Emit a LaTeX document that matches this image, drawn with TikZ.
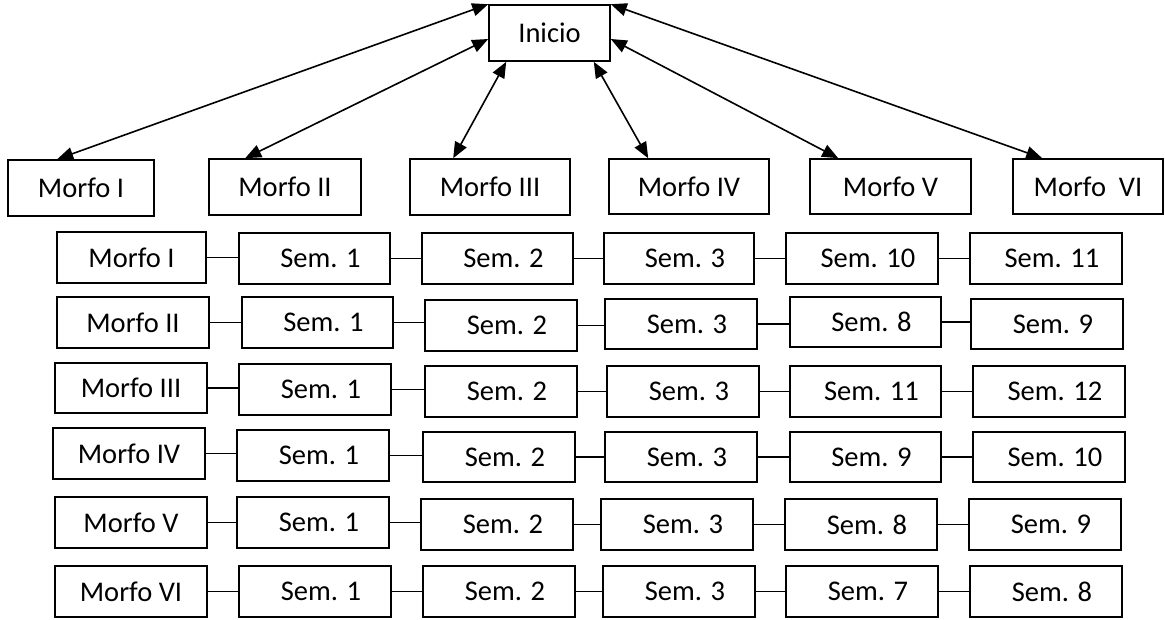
\documentclass[tikz,border=0pt]{standalone}
\usepackage{fontspec}
\setmainfont{Carlito}
\usetikzlibrary{arrows.meta}
\tikzset{
  boxnode/.style={draw, line width=1.6pt, inner sep=0pt, font=\fontsize{28.5}{34}\selectfont},
  semtext/.style={execute at begin node={\hspace*{12pt}}},
  biarrow/.style={{Triangle[length=16pt,width=13pt]}-{Triangle[length=16pt,width=13pt]}, line width=1.6pt},
  link/.style={line width=1.6pt}
}
% name, x1, x2, y1, y2, extra style, text
\newcommand{\mybox}[7]{%
  \node[boxnode,#6,minimum width={(#3-#2)*1pt},minimum height={(#5-#4)*1pt}] (#1) at ({(#2+#3)/2},{(#4+#5)/2}) {#7};}
\newcommand{\mylink}[2]{\draw[link] (#1.east) -- (#1.east -| #2.west);}
\begin{document}
\begin{tikzpicture}[x=1pt,y=-1pt]
\useasboundingbox (0,0) rectangle (1165,619);
% top
\mybox{ini}{489}{610}{5}{61}{}{Inicio}
\mybox{t1}{8}{154}{160}{216}{}{Morfo I}
\mybox{t2}{209}{361}{159}{215}{}{Morfo II}
\mybox{t3}{410}{570}{159}{215}{}{Morfo III}
\mybox{t4}{609}{769}{159}{214}{}{Morfo IV}
\mybox{t5}{810}{971}{159}{214}{}{Morfo V}
\mybox{t6}{1013}{1163}{159}{214}{}{Morfo\ \ VI}
\draw[biarrow] (ini.north west) -- ([xshift=50pt]t1.north west);
\draw[biarrow] ([yshift=-6pt]ini.west) -- ([xshift=37pt]t2.north west);
\draw[biarrow] ([xshift=18pt]ini.south west) -- ([xshift=44pt]t3.north west);
\draw[biarrow] ([xshift=-17pt]ini.south east) -- ([xshift=40pt]t4.north west);
\draw[biarrow] ([yshift=-6pt]ini.east) -- ([xshift=29pt]t5.north west);
\draw[biarrow] (ini.north east) -- ([xshift=30pt]t6.north west);
% row 1
\mybox{a0}{57}{206}{232}{283}{}{Morfo I}
\mybox{a1}{239}{390}{233}{284}{semtext}{Sem. 1}
\mybox{a2}{422}{573}{233}{284}{semtext}{Sem. 2}
\mybox{a3}{604}{754}{233}{284}{semtext}{Sem. 3}
\mybox{a4}{786}{938}{233}{284}{semtext}{Sem. 10}
\mybox{a5}{970}{1122}{233}{284}{semtext}{Sem. 11}
% row 2
\mybox{b0}{57}{209}{297}{348}{}{Morfo II}
\mybox{b1}{242}{393}{297}{348}{semtext}{Sem. 1}
\mybox{b2}{425}{577}{300}{351}{semtext}{Sem. 2}
\mybox{b3}{605}{757}{299}{349}{semtext}{Sem. 3}
\mybox{b4}{790}{941}{297}{347}{semtext}{Sem. 8}
\mybox{b5}{971}{1123}{299}{349}{semtext}{Sem. 9}
% row 3
\mybox{c0}{55}{207}{363}{413}{}{Morfo III}
\mybox{c1}{239}{391}{364}{415}{semtext}{Sem. 1}
\mybox{c2}{425}{577}{366}{417}{semtext}{Sem. 2}
\mybox{c3}{607}{759}{366}{417}{semtext}{Sem. 3}
\mybox{c4}{790}{941}{366}{417}{semtext}{Sem. 11}
\mybox{c5}{973}{1125}{366}{417}{semtext}{Sem. 12}
% row 4
\mybox{d0}{53}{205}{428}{479}{}{Morfo IV}
\mybox{d1}{237}{389}{430}{481}{semtext}{Sem. 1}
\mybox{d2}{423}{575}{432}{482}{semtext}{Sem. 2}
\mybox{d3}{605}{757}{432}{482}{semtext}{Sem. 3}
\mybox{d4}{790}{941}{432}{482}{semtext}{Sem. 9}
\mybox{d5}{973}{1125}{432}{482}{semtext}{Sem. 10}
% row 5
\mybox{e0}{55}{207}{497}{548}{}{Morfo V}
\mybox{e1}{237}{389}{497}{548}{semtext}{Sem. 1}
\mybox{e2}{421}{573}{499}{550}{semtext}{Sem. 2}
\mybox{e3}{601}{753}{499}{550}{semtext}{Sem. 3}
\mybox{e4}{785}{937}{499}{550}{semtext}{Sem. 8}
\mybox{e5}{969}{1121}{499}{550}{semtext}{Sem. 9}
% row 6
\mybox{f0}{55}{207}{566}{617}{}{Morfo VI}
\mybox{f1}{239}{391}{566}{617}{semtext}{Sem. 1}
\mybox{f2}{423}{575}{566}{617}{semtext}{Sem. 2}
\mybox{f3}{603}{755}{566}{617}{semtext}{Sem. 3}
\mybox{f4}{786}{938}{566}{617}{semtext}{Sem. 7}
\mybox{f5}{970}{1122}{566}{617}{semtext}{Sem. 8}
% links
\foreach \r in {a,b,c,d,e,f}{
  \mylink{\r0}{\r1}\mylink{\r1}{\r2}\mylink{\r2}{\r3}\mylink{\r3}{\r4}\mylink{\r4}{\r5}
}
\end{tikzpicture}
\end{document}
